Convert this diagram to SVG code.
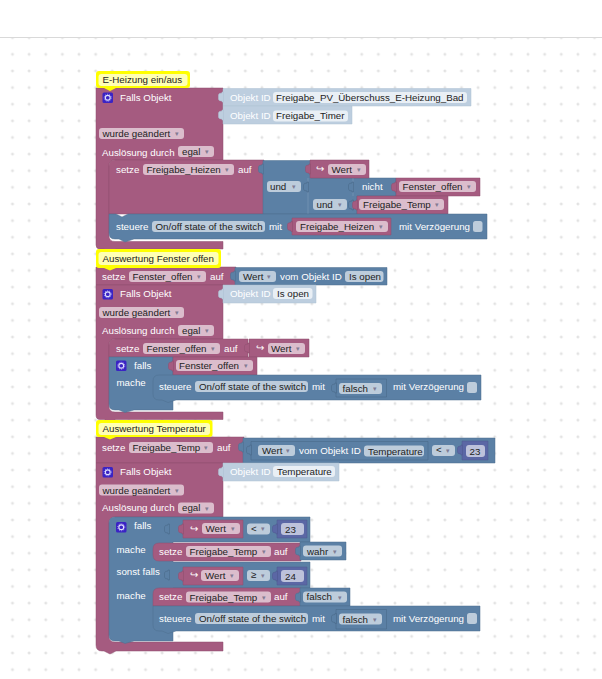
<svg xmlns="http://www.w3.org/2000/svg" xmlns:xlink="http://www.w3.org/1999/xlink" width="602" height="679" viewBox="0 0 602 679">
<style>
text{font-family:"Liberation Sans",Arial,sans-serif;font-size:9.75px;fill:#fff}
text.k{fill:#222}
text.a{font-size:7px;fill:#75708a;opacity:.85}
.r{fill:#a55b80;stroke:#8f4f6f;stroke-width:.5}
.b{fill:#5b80a5;stroke:#4f6f8f;stroke-width:.5}
.l{fill:#bdcedf;stroke:#adc0d3;stroke-width:.5}
.p{fill:#5b67a5;stroke:#4f598f;stroke-width:.5}
.s{fill:#5b80a5;stroke:#4a6a8a;stroke-width:.6}
.fr{fill:#dbbdcc}
.fb{fill:#bdccdb}
.fw{fill:#e9eff5}
.fp{fill:#bdc2db}
.y{fill:#ff0}
.yy{fill:#ffffb4}
.ic{fill:#3a23c4}
.ck{fill:#bdccdb}
</style>
<defs>
<pattern id="grid" x="12.5" y="37.7" width="16.63" height="16.63" patternUnits="userSpaceOnUse">
<path d="M-1.5,0H1.5M0,-1.5V1.5M15.13,0h3M16.63,-1.5v3M-1.5,16.63h3M0,15.13v3M15.13,16.63h3M16.63,15.13v3" stroke="#d4d4d4" stroke-width=".8" fill="none"/>
</pattern>
<path id="tab" d="M.5,-5H-1V-4Q-4.5,-4-4.5,-2V2Q-4.5,4-1,4V5H.5Z"/>
<g id="gear"><rect x="0" y="0" width="10.5" height="10.5" rx="1.5" class="ic"/><circle cx="5.25" cy="5.25" r="2.4" fill="none" stroke="#dfe0ff" stroke-width="1.1"/><circle cx="5.25" cy="5.25" r="3.5" fill="none" stroke="#dfe0ff" stroke-width=".7" stroke-dasharray="1 1.2"/></g>
</defs>
<rect width="602" height="679" fill="#fff"/>
<rect y="37" width="602" height="642" fill="url(#grid)"/>
<rect y="37" width="602" height="1" fill="#d9d9d9"/>

<g id="section-heizung">
<g id="main-heizung">
<path class="r" d="M96,88H223V160H115Q109,160 109,166V236Q109,241.500 115,241.500H223V249H116L110,252L104,249H100Q96,249 96,245Z"/>
<use href="#gear" x="102.500" y="92.500"/>
<text x="120" y="101">Falls Objekt</text>
<rect class="fr" x="99" y="128" width="85" height="11" rx="3"/><text class="k" x="102.500" y="137">wurde geändert</text><text class="a" x="175" y="136">▾</text>
<text x="102" y="155.500">Auslösung durch</text>
<rect class="fr" x="178" y="146" width="36" height="11" rx="3"/><text class="k" x="182" y="155">egal</text><text class="a" x="205" y="154">▾</text>
</g>
<g id="objekt-id-1">
<path class="l" d="M223,88.500H471V106H223Z"/><use href="#tab" class="l" x="223" y="97"/>
<text x="230" y="101">Objekt ID</text>
<rect class="fw" x="273" y="92" width="194" height="11" rx="3"/><text class="k" x="276" y="101">Freigabe_PV_Überschuss_E-Heizung_Bad</text>
</g>
<g id="objekt-id-2">
<path class="l" d="M223,106H352V124H223Z"/><use href="#tab" class="l" x="223" y="115"/>
<text x="230" y="119">Objekt ID</text>
<rect class="fw" x="273" y="110.500" width="75" height="11" rx="3"/><text class="k" x="276" y="119">Freigabe_Timer</text>
</g>
<g id="setze-heizen">
<path class="r" d="M115,160H264V214H109V166Q109,160 115,160Z"/>
<text x="116" y="172.500">setze</text>
<rect class="fr" x="143" y="164" width="91" height="11" rx="3"/><text class="k" x="146.500" y="172.500">Freigabe_Heizen</text><text class="a" x="225" y="172">▾</text>
<text x="238" y="172.500">auf</text>
</g>
<g id="und-1">
<path class="b" d="M263,160.500H311V178H396V196H357V214H263Z"/><use href="#tab" class="b" x="263" y="169"/>
<rect class="fb" x="267" y="181" width="34" height="11" rx="3"/><text class="k" x="270" y="190">und</text><text class="a" x="292" y="189">▾</text>
<path d="M308,178V214M353,178V196" stroke="#7f9cba" stroke-width=".6" fill="none"/>
<use href="#tab" class="s" x="308" y="187"/>
<use href="#tab" class="s" x="353" y="187"/>
</g>
<g id="wert-1">
<path class="r" d="M310,160H369V178H310Z"/><use href="#tab" class="r" x="310" y="169"/>
<text x="316" y="172">↪</text>
<rect class="fr" x="328" y="164" width="38" height="11" rx="3"/><text class="k" x="331.500" y="173">Wert</text><text class="a" x="357" y="172">▾</text>
</g>
<g id="nicht">
<text x="362" y="190">nicht</text>
</g>
<g id="fenster-offen-1">
<path class="r" d="M396,178H480V196H396Z"/><use href="#tab" class="r" x="396" y="187"/>
<rect class="fr" x="399" y="181" width="77" height="11" rx="3"/><text class="k" x="402.500" y="190">Fenster_offen</text><text class="a" x="467" y="189">▾</text>
</g>
<g id="und-2">
<rect class="fb" x="313" y="199" width="34" height="11" rx="3"/><text class="k" x="316.500" y="208">und</text><text class="a" x="338" y="207">▾</text>
<use href="#tab" class="s" x="353" y="205"/>
</g>
<g id="freigabe-temp-1">
<path class="r" d="M357,196H448V214H357Z"/><use href="#tab" class="r" x="357" y="205"/>
<rect class="fr" x="359" y="199" width="85" height="11" rx="3"/><text class="k" x="363" y="208">Freigabe_Temp</text><text class="a" x="435" y="207">▾</text>
</g>
<g id="steuere-1">
<path class="b" d="M109,214H116L122,217L128,214H487V239H134L125,242L119,239H115Q109,239 109,233Z"/>
<text x="116" y="229.500">steuere</text>
<rect class="fb" x="152" y="221" width="113" height="11" rx="3"/><text class="k" x="155.500" y="229.500">On/off state of the switch</text>
<text x="269" y="229.500">mit</text>
<path class="r" d="M292,218H391V235H292Z"/><use href="#tab" class="r" x="292" y="226.500"/>
<rect class="fr" x="296" y="221" width="92" height="11" rx="3"/><text class="k" x="300" y="229.500">Freigabe_Heizen</text><text class="a" x="379" y="229">▾</text>
<text x="399" y="229.500">mit Verzögerung</text>
<rect class="ck" x="473" y="221" width="9.500" height="11" rx="2.500"/>
</g>
<g id="comment-heizung">
<path class="y" d="M99,71H187Q190,71 190,74V85Q190,88 187,88H116L110,91L104,88H99Q96,88 96,85V74Q96,71 99,71Z"/>
<rect class="yy" x="98.500" y="74" width="89" height="12" rx="3"/><text class="k" x="102.500" y="83">E-Heizung ein/aus</text>
</g>
</g>

<g id="section-fenster">
<g id="setze-fenster">
<path class="r" d="M96,267H236V285H96Z"/>
<text x="102" y="279.500">setze</text>
<rect class="fr" x="129" y="271" width="77" height="11" rx="3"/><text class="k" x="132.500" y="279.500">Fenster_offen</text><text class="a" x="197" y="279">▾</text>
<text x="210" y="279.500">auf</text>
</g>
<g id="wert-objekt-1">
<path class="b" d="M235,267.500H387V285H235Z"/><use href="#tab" class="b" x="235" y="276"/>
<rect class="fb" x="239" y="271" width="37" height="11" rx="3"/><text class="k" x="243" y="279.500">Wert</text><text class="a" x="267" y="279">▾</text>
<text x="280" y="279.500">vom Objekt ID</text>
<rect class="fb" x="345" y="271" width="38.500" height="11" rx="3"/><text class="k" x="349" y="279.500">Is open</text>
</g>
<g id="main-fenster">
<path class="r" d="M96,285H223V339H115Q109,339 109,345V406Q109,412 115,412H223V419.500H116L110,422L104,419.500H100Q96,419.500 96,415Z"/>
<use href="#gear" x="102.500" y="289"/>
<text x="120" y="297">Falls Objekt</text>
<rect class="fr" x="99" y="307" width="85" height="11" rx="3"/><text class="k" x="102.500" y="316">wurde geändert</text><text class="a" x="175" y="315">▾</text>
<text x="102" y="333.500">Auslösung durch</text>
<rect class="fr" x="178" y="325" width="36" height="11" rx="3"/><text class="k" x="182" y="333.500">egal</text><text class="a" x="205" y="333">▾</text>
</g>
<g id="objekt-id-3">
<path class="l" d="M223,285H316V303H223Z"/><use href="#tab" class="l" x="223" y="294"/>
<text x="230" y="297">Objekt ID</text>
<rect class="fw" x="273" y="288" width="39.500" height="11" rx="3"/><text class="k" x="277" y="297">Is open</text>
</g>
<g id="setze-fenster-2">
<path class="r" d="M115,339H248V357H109V345Q109,339 115,339Z"/>
<text x="116" y="351.500">setze</text>
<rect class="fr" x="143" y="343" width="77" height="11" rx="3"/><text class="k" x="146.500" y="351.500">Fenster_offen</text><text class="a" x="211" y="351">▾</text>
<text x="224" y="351.500">auf</text>
</g>
<g id="wert-2">
<path class="r" d="M249,339H309V357H249Z"/><use href="#tab" class="r" x="249" y="348"/>
<text x="256" y="351">↪</text>
<rect class="fr" x="268" y="343" width="37" height="11" rx="3"/><text class="k" x="271" y="351.500">Wert</text><text class="a" x="296" y="351">▾</text>
</g>
<g id="falls-1">
<path class="b" d="M109,357H173V410H134L125,412.500L119,410H115Q109,410 109,404Z"/>
<use href="#gear" x="116" y="360.500"/>
<text x="134" y="368.500">falls</text>
<text x="116.500" y="386">mache</text>
</g>
<g id="fenster-offen-2">
<path class="r" d="M173,357H257V375H173Z"/><use href="#tab" class="r" x="173" y="366"/>
<rect class="fr" x="176" y="360" width="77" height="11" rx="3"/><text class="k" x="179" y="368.500">Fenster_offen</text><text class="a" x="244" y="368">▾</text>
</g>
<g id="steuere-2">
<path class="b" d="M159,375H481V400H176L168,402.500L162,400H159Q153,400 153,394V381Q153,375 159,375Z" stroke="#7f9cba"/>
<text x="159" y="390">steuere</text>
<rect class="fb" x="195" y="381" width="113" height="11" rx="3"/><text class="k" x="199" y="390">On/off state of the switch</text>
<text x="312" y="390">mit</text>
<path class="s" d="M336,379H386.500V397H336Z"/><use href="#tab" class="s" x="336" y="388"/>
<rect class="fb" x="339" y="383" width="43" height="11" rx="3"/><text class="k" x="342.500" y="392">falsch</text><text class="a" x="373" y="391">▾</text>
<text x="393" y="390">mit Verzögerung</text>
<rect class="ck" x="467" y="382" width="10" height="11" rx="2.500"/>
</g>
<g id="comment-fenster">
<path class="y" d="M99,249H218Q221,249 221,252V265Q221,268 218,268H116L110,270.500L104,268H99Q96,268 96,265V252Q96,249 99,249Z"/>
<rect class="yy" x="98.500" y="252" width="120" height="13" rx="3"/><text class="k" x="102.500" y="261.500">Auswertung Fenster offen</text>
</g>
</g>

<g id="section-temperatur">
<g id="setze-temp">
<path class="r" d="M96,437H244V463H96Z"/>
<text x="102" y="450.500">setze</text>
<rect class="fr" x="129" y="442" width="84" height="11" rx="3"/><text class="k" x="132.500" y="450.500">Freigabe_Temp</text><text class="a" x="204" y="450">▾</text>
<text x="217" y="450.500">auf</text>
</g>
<g id="vergleich-1">
<path class="b" d="M243,438H495V463H243Z"/><use href="#tab" class="b" x="243" y="447"/>
<path class="s" d="M251,441.500H428V460H251Z" stroke="#7f9cba"/><use href="#tab" class="s" x="251" y="450"/>
<rect class="fb" x="258" y="445" width="37" height="11" rx="3"/><text class="k" x="262" y="454">Wert</text><text class="a" x="286" y="453">▾</text>
<text x="299" y="454">vom Objekt ID</text>
<rect class="fb" x="364" y="445.500" width="60" height="11" rx="3"/><text class="k" x="368" y="454.500">Temperature</text>
<rect class="fb" x="432" y="445" width="23" height="11" rx="3"/><text class="k" x="436" y="453">&lt;</text><text class="a" x="446" y="453">▾</text>
<path class="p" d="M462,441H488V460H462Z"/><use href="#tab" class="p" x="462" y="450"/>
<rect class="fp" x="466" y="445" width="19" height="12" rx="3"/><text class="k" x="469.500" y="454.500">23</text>
</g>
<g id="main-temp">
<path class="r" d="M96,463H223V517H115Q109,517 109,523V636Q109,642 115,642H223V651H116L110,654L104,651H102Q96,651 96,645Z"/>
<use href="#gear" x="102.500" y="467"/>
<text x="120" y="475">Falls Objekt</text>
<rect class="fr" x="99" y="484.500" width="85" height="11" rx="3"/><text class="k" x="102.500" y="493.500">wurde geändert</text><text class="a" x="175" y="493">▾</text>
<text x="102" y="511">Auslösung durch</text>
<rect class="fr" x="178" y="502.500" width="36" height="11" rx="3"/><text class="k" x="182" y="511">egal</text><text class="a" x="205" y="510.500">▾</text>
</g>
<g id="objekt-id-4">
<path class="l" d="M223,463H339V481H223Z"/><use href="#tab" class="l" x="223" y="472"/>
<text x="230" y="475">Objekt ID</text>
<rect class="fw" x="273" y="466" width="62" height="11" rx="3"/><text class="k" x="277" y="475">Temperature</text>
</g>
<g id="falls-2">
<path class="b" d="M115,517H310V542H173V562H310V588H173V633H173V641H134L125,643.500L119,641H115Q109,641 109,635V523Q109,517 115,517Z"/>
<use href="#gear" x="116" y="522"/>
<text x="134" y="529">falls</text>
<text x="116.500" y="553">mache</text>
<text x="116.500" y="575">sonst falls</text>
<text x="116.500" y="599">mache</text>
<use href="#tab" class="s" x="169" y="529"/>
<use href="#tab" class="s" x="169" y="575"/>
</g>
<g id="wert-3">
<path class="r" d="M183,520H243V538H183Z"/><use href="#tab" class="r" x="183" y="529"/>
<text x="190" y="532">↪</text>
<rect class="fr" x="202" y="523" width="38" height="11" rx="3"/><text class="k" x="205.500" y="532">Wert</text><text class="a" x="231" y="531">▾</text>
<rect class="fb" x="247" y="523.500" width="23" height="11" rx="3"/><text class="k" x="251" y="531.500">&lt;</text><text class="a" x="261" y="531">▾</text>
<path class="p" d="M277,520H307V538H277Z"/><use href="#tab" class="p" x="277" y="529"/>
<rect class="fp" x="281" y="523" width="23" height="12" rx="3"/><text class="k" x="285" y="532.500">23</text>
</g>
<g id="setze-temp-2">
<path class="r" d="M159,543H301V561H159Q153,561 153,555V549Q153,543 159,543Z"/>
<text x="159" y="555">setze</text>
<rect class="fr" x="186" y="546" width="85" height="11" rx="3"/><text class="k" x="189.500" y="555">Freigabe_Temp</text><text class="a" x="262" y="554">▾</text>
<text x="274" y="555">auf</text>
</g>
<g id="wahr">
<path class="b" d="M300,542H346V560H300Z"/><use href="#tab" class="b" x="300" y="551"/>
<rect class="fb" x="303" y="545.500" width="39" height="11" rx="3"/><text class="k" x="307" y="554.500">wahr</text><text class="a" x="333" y="554">▾</text>
</g>
<g id="wert-4">
<path class="r" d="M183,567H243V585H183Z"/><use href="#tab" class="r" x="183" y="576"/>
<text x="190" y="578">↪</text>
<rect class="fr" x="201" y="570" width="38" height="11" rx="3"/><text class="k" x="205" y="579">Wert</text><text class="a" x="230" y="578">▾</text>
<rect class="fb" x="247" y="570" width="23" height="11" rx="3"/><text class="k" x="251" y="578">≥</text><text class="a" x="261" y="578">▾</text>
<path class="p" d="M277,567H307V585H277Z"/><use href="#tab" class="p" x="277" y="576"/>
<rect class="fp" x="281" y="570" width="23" height="12" rx="3"/><text class="k" x="285" y="579.500">24</text>
</g>
<g id="setze-temp-3">
<path class="r" d="M159,588H301V606H153V594Q153,588 159,588Z"/>
<text x="159" y="600">setze</text>
<rect class="fr" x="186" y="591.500" width="85" height="11" rx="3"/><text class="k" x="189.500" y="600.500">Freigabe_Temp</text><text class="a" x="262" y="600">▾</text>
<text x="274" y="600">auf</text>
</g>
<g id="falsch-1">
<path class="b" d="M300,588H350V606H300Z"/><use href="#tab" class="b" x="300" y="597"/>
<rect class="fb" x="303" y="591.500" width="44" height="11" rx="3"/><text class="k" x="306.500" y="600">falsch</text><text class="a" x="338" y="599.500">▾</text>
</g>
<g id="steuere-3">
<path class="b" d="M153,606H480V631H176L168,633.500L162,631H159Q153,631 153,625Z" stroke="#7f9cba"/>
<text x="159" y="621.500">steuere</text>
<rect class="fb" x="195" y="613" width="113" height="11" rx="3"/><text class="k" x="199" y="621.500">On/off state of the switch</text>
<text x="312" y="621.500">mit</text>
<path class="s" d="M336,609.500H386.500V629H336Z"/><use href="#tab" class="s" x="336" y="618.500"/>
<rect class="fb" x="339" y="613.500" width="43" height="11" rx="3"/><text class="k" x="342.500" y="622.500">falsch</text><text class="a" x="373" y="622">▾</text>
<text x="393" y="621.500">mit Verzögerung</text>
<rect class="ck" x="467" y="613" width="10" height="11" rx="2.500"/>
</g>
<g id="comment-temperatur">
<path class="y" d="M99,420H209.500Q212.500,420 212.500,423V434Q212.500,437 209.500,437H116L110,439.500L104,437H99Q96,437 96,434V423Q96,420 99,420Z"/>
<rect class="yy" x="98.500" y="423" width="111.500" height="12" rx="3"/><text class="k" x="102.500" y="432">Auswertung Temperatur</text>
</g>
</g>
</svg>
